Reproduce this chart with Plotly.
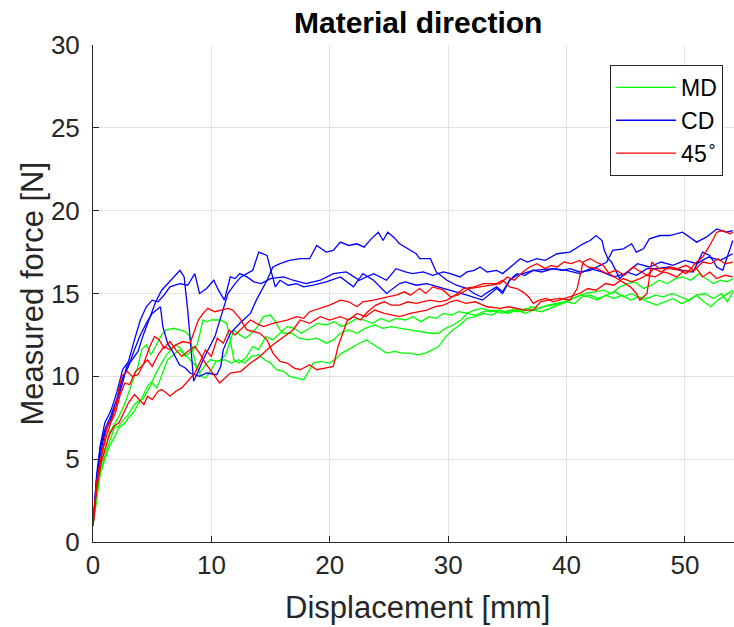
import plotly.graph_objects as go

# ---------------- data ----------------
md1_x = [0,0.3,0.6,1.0,1.4,1.8,2.2,2.6,3.0,3.4,3.8,4.1,4.5,4.9,5.3,5.8,6.2,6.8,7.3,7.8,8.2,8.4,8.7,9.1,9.5,9.9,10.4,10.8,11.2,11.9,12.4,12.9,13.4,13.9,14.4,15.0,15.5,15.8,16.1,16.8,17.4,18.2,18.9,19.7,20.3,20.9,21.6,22.3,23.0,23.8,24.5,25.2,26.0,26.8,27.6,28.5,29.2,29.8,30.4,31.1,31.6,32.3,33.0,33.8,34.5,35.2,35.9,36.6,37.3,38.0,38.8,39.5,40.2,40.9,41.6,42.4,43.1,43.8,44.5,45.2,45.8,46.5,47.2,47.8,48.5,49.2,49.8,50.5,51.2,51.8,52.4,53.0,53.6,54.05]
md1_y = [1.0,3.0,4.6,5.6,6.6,7.1,7.6,8.2,9.0,9.8,10.6,11.6,11.9,11.3,11.8,12.5,12.8,12.9,12.8,12.7,12.4,11.6,10.7,10.0,9.9,10.3,10.9,11.0,11.3,12.8,12.5,12.3,12.6,13.0,13.6,13.7,13.2,12.8,12.6,12.6,12.3,12.2,12.3,12.0,12.2,12.6,12.8,12.6,12.9,13.1,12.9,13.0,12.9,12.8,12.7,12.6,12.6,12.9,13.1,13.4,13.8,13.7,13.9,14.0,13.8,14.0,13.9,14.1,14.0,14.2,14.3,14.4,14.6,14.8,15.0,15.1,15.2,15.0,15.4,15.6,15.7,15.3,15.5,15.8,15.6,15.9,16.0,15.8,16.2,15.9,15.6,15.8,15.7,15.9]

md2_x = [0,0.3,0.6,1.0,1.4,1.8,2.2,2.6,3.0,3.4,3.8,4.2,4.6,5.0,5.4,5.9,6.3,6.8,7.3,7.8,8.3,8.8,9.3,9.6,10.0,10.7,11.3,11.6,11.9,12.3,12.9,13.5,14.0,14.6,15.2,15.8,16.4,17.0,17.6,18.3,19.0,19.7,20.4,21.0,21.6,22.3,22.9,23.6,24.3,25.0,25.6,26.4,27.0,27.7,28.4,29.0,29.6,30.3,30.9,31.6,32.2,32.9,33.6,34.3,34.9,35.6,36.3,37.0,37.7,38.4,39.1,39.8,40.5,41.2,41.9,42.6,43.3,44.0,44.7,45.4,46.1,46.8,47.5,48.2,48.9,49.6,50.3,51.0,51.7,52.4,53.1,53.6,54.05]
md2_y = [1.0,2.8,4.3,5.2,6.0,6.9,7.0,7.4,7.7,8.2,8.5,8.6,9.1,9.6,9.3,10.2,11.0,11.3,11.6,11.2,11.5,11.9,13.4,13.3,13.4,13.4,13.2,12.2,11.0,10.8,11.1,11.8,11.6,12.4,12.2,12.6,13.0,12.9,12.6,12.9,13.2,13.1,13.3,13.0,13.2,13.5,13.4,13.2,13.5,13.3,13.5,13.4,13.6,13.3,13.6,13.5,13.8,13.7,13.9,13.8,14.0,14.1,13.9,14.0,13.8,14.1,13.9,14.2,14.1,14.3,14.4,14.5,14.7,14.9,14.8,14.6,14.9,14.7,14.9,14.6,14.8,14.7,14.9,14.8,15.0,14.8,14.6,14.9,15.0,14.7,15.0,14.5,15.1]

md3_x = [0,0.3,0.6,1.0,1.4,1.8,2.2,2.6,3.0,3.4,3.8,4.2,4.6,5.0,5.4,5.8,6.2,6.6,7.0,7.4,7.8,8.2,8.6,9.0,9.4,9.9,10.5,11.1,11.7,12.3,12.8,13.4,14.0,14.5,15.0,15.5,16.1,16.6,17.2,17.8,18.3,18.6,19.2,20.0,20.6,21.0,21.8,22.5,23.1,23.7,24.3,24.8,25.5,26.1,26.8,27.4,28.1,28.7,29.2,29.8,30.4,31.0,31.6,32.3,33.0,33.7,34.4,35.1,35.8,36.5,37.2,37.9,38.6,39.3,40.0,40.7,41.3,42.0,42.7,43.4,44.1,44.8,45.5,46.2,46.9,47.6,48.3,49.0,49.7,50.4,51.0,51.6,52.2,52.8,53.4,54.05]
md3_y = [1.0,2.5,4.0,5.0,5.8,6.3,6.9,7.1,7.5,7.8,8.3,8.8,9.4,9.7,10.3,10.8,11.3,11.6,11.9,11.7,11.3,11.0,10.7,10.2,10.6,11.0,10.9,11.0,10.8,11.0,10.8,11.2,11.3,11.0,10.8,10.4,10.3,10.0,9.9,9.8,10.4,10.8,10.9,10.8,11.1,11.4,11.7,12.0,12.2,11.9,11.6,11.4,11.5,11.4,11.4,11.3,11.4,11.6,11.8,12.4,12.8,13.1,13.5,13.6,13.8,13.7,14.0,13.8,14.0,13.8,14.0,13.9,14.1,14.3,14.5,14.4,14.8,14.9,14.7,14.9,15.1,14.8,15.0,14.7,14.5,14.3,14.5,14.7,14.4,14.6,14.9,14.5,14.2,14.6,14.9,15.2]

cd1_x = [0,0.3,0.6,1.0,1.5,2.0,2.5,3.0,3.5,4.0,4.5,5.0,5.7,5.9,6.3,6.8,7.3,7.8,8.2,9.0,9.6,10.45,10.8,11.0,11.6,12.4,13.3,13.8,14.7,15.2,15.8,16.6,17.5,18.3,18.9,19.7,20.3,20.9,21.6,22.3,22.9,23.5,24.1,24.5,24.9,25.4,25.9,26.8,27.3,27.6,28.0,28.5,29.0,29.9,30.7,31.6,32.2,32.8,33.4,34.1,34.6,35.2,35.8,36.5,37.2,37.9,38.9,39.6,40.3,41.1,42.0,42.8,43.4,43.9,44.8,45.5,45.9,46.5,47.0,47.9,48.7,49.8,50.4,51.0,51.8,52.7,53.5,54.05]
cd1_y = [1.0,3.6,5.6,6.8,7.6,8.6,9.9,10.6,11.6,12.5,13.2,13.8,14.2,13.0,12.0,11.4,10.7,10.5,10.2,10.0,10.2,10.1,10.6,11.6,12.6,13.2,13.8,14.6,15.8,16.6,16.8,17.0,17.1,17.1,17.9,17.5,17.6,18.1,17.9,18.0,17.8,18.3,18.7,18.2,18.7,18.4,18.0,17.6,17.4,17.1,17.1,17.1,16.3,15.8,15.5,15.3,15.0,14.8,15.1,15.4,15.1,15.8,16.2,16.1,16.4,16.3,16.5,16.4,16.5,16.3,16.4,16.7,16.9,17.6,17.7,18.0,17.5,17.7,18.3,18.5,18.5,18.7,18.4,18.1,18.4,18.9,18.7,18.8]

cd2_x = [0,0.3,0.6,1.0,1.5,2.0,2.5,3.0,3.5,4.0,4.5,5.0,5.5,6.0,6.5,7.35,8.0,8.6,9.0,9.6,10.2,10.6,11.1,11.6,12.0,12.4,13.0,13.6,14.2,15.0,16.1,16.9,18.0,19.2,20.3,21.4,22.5,23.7,24.8,25.6,26.4,27.0,27.9,28.7,29.6,30.2,31.0,31.6,32.2,32.7,33.3,34.1,34.6,35.3,36.1,36.7,37.5,38.2,39.2,40.3,41.4,42.0,42.5,43.0,43.2,43.5,43.8,44.5,45.1,45.9,46.8,47.6,48.7,49.8,50.7,51.5,52.1,52.7,53.2,54.05]
cd2_y = [1.0,4.0,5.8,7.2,7.9,9.0,10.4,10.9,12.2,13.4,14.2,14.6,14.5,14.9,15.4,15.6,15.5,16.2,15.0,15.3,15.8,15.2,14.6,16.0,15.9,16.2,16.0,15.7,15.6,15.9,16.0,15.8,15.6,15.8,16.2,16.3,15.8,16.2,15.8,16.5,16.3,16.2,16.3,16.1,16.3,16.2,16.0,16.3,16.4,16.6,16.3,16.4,16.2,16.6,17.1,16.9,17.1,17.0,17.4,17.5,18.0,18.2,18.5,18.2,17.6,17.1,16.9,15.9,16.3,16.1,16.5,16.5,16.6,16.4,16.3,17.5,17.3,16.6,16.4,18.2]

cd3_x = [0,0.3,0.6,1.0,1.5,2.0,2.5,2.85,3.3,3.8,4.25,4.8,5.3,5.8,6.3,6.8,7.35,7.7,8.0,8.3,8.5,8.9,9.3,10.3,10.8,11.4,12.0,12.5,13.0,13.5,14.0,14.7,15.1,15.4,15.8,16.5,17.2,17.8,18.6,19.7,20.9,22.0,22.8,23.7,24.8,25.9,26.4,27.3,28.2,29.2,30.3,31.6,32.9,34.1,34.6,35.2,35.8,37.2,38.9,40.0,41.1,42.0,43.0,44.0,45.0,46.0,47.0,48.0,49.0,50.0,51.0,52.0,53.0,54.05]
cd3_y = [1.0,3.8,5.2,6.6,7.4,8.4,9.6,10.6,11.0,11.5,12.5,13.6,14.5,15.2,15.6,16.0,16.4,16.0,14.0,11.5,9.7,10.3,11.0,12.4,13.6,15.0,15.6,16.0,16.2,16.4,17.5,17.3,16.2,15.4,15.8,15.5,15.6,15.4,15.5,15.7,16.0,15.4,16.2,15.8,15.0,15.6,15.7,15.5,15.6,15.4,15.2,14.9,14.6,15.3,15.0,15.8,16.1,16.4,16.5,16.4,16.2,16.5,16.3,16.0,16.2,16.8,16.6,16.9,16.7,17.0,16.8,17.2,17.0,17.4]

d45_1_x = [0,0.4,0.8,1.2,1.6,2.0,2.4,2.9,3.3,3.8,4.3,4.8,5.2,5.6,6.0,6.5,7.0,7.5,8.0,8.6,9.0,9.5,10.0,10.7,11.6,12.5,13.3,14.1,15.0,15.8,16.9,17.5,18.3,19.2,20.0,20.9,21.6,22.3,23.0,23.8,24.6,25.3,25.9,26.8,27.4,28.2,28.9,29.6,30.2,30.7,31.5,32.3,33.3,34.4,35.1,35.8,36.5,37.2,37.8,38.5,39.4,40.3,40.9,41.4,42.0,42.5,43.1,43.6,44.1,44.5,45.4,45.9,46.2,46.8,47.2,47.8,48.7,49.6,50.1,50.6,51.0,51.5,52.1,52.7,53.2,53.8,54.05]
d45_1_y = [1.0,4.0,5.5,7.0,7.4,8.5,10.0,10.3,10.0,10.1,10.8,11.8,12.4,12.2,11.7,12.1,11.6,11.2,11.5,11.8,11.4,10.8,10.3,9.6,10.2,10.3,10.8,11.2,11.8,12.2,12.8,13.4,13.2,13.6,13.4,13.6,13.4,13.8,13.6,14.0,13.8,13.7,13.6,13.8,13.9,14.0,14.2,14.3,14.5,14.6,14.4,14.5,14.2,14.1,14.2,14.1,14.0,14.0,14.5,14.6,14.7,14.6,15.3,16.9,17.1,16.9,16.7,16.2,16.0,15.8,15.4,15.0,14.6,15.0,16.9,16.5,16.5,16.4,16.2,16.6,16.9,17.2,17.9,18.7,18.8,18.6,18.7]

d45_2_x = [0,0.3,0.7,1.1,1.5,1.9,2.3,2.7,3.1,3.6,4.1,4.6,5.0,5.5,6.0,6.5,7.0,7.6,8.2,8.5,8.9,9.3,9.7,10.3,10.8,11.4,11.8,12.4,13.0,13.5,14.1,14.7,15.2,15.8,16.4,17.0,17.5,18.3,18.9,19.6,20.3,20.7,21.1,21.5,22.0,22.6,23.2,23.9,24.6,25.2,25.9,26.6,27.3,28.5,29.3,29.9,30.6,31.3,32.2,33.0,34.1,34.6,35.2,35.8,36.3,36.8,37.2,37.7,38.3,38.9,39.4,40.3,41.1,41.8,42.5,43.3,44.0,44.8,45.5,46.2,46.8,47.5,48.2,48.7,49.3,50.0,50.4,51.0,51.5,52.1,52.7,53.4,54.05]
d45_2_y = [1.0,3.5,5.2,6.3,7.2,7.8,8.9,9.6,9.5,10.3,10.6,11.0,10.6,11.3,11.8,11.6,11.9,12.1,12.0,12.6,13.4,13.8,14.1,13.9,14.0,14.1,14.0,13.5,12.8,12.7,12.6,12.2,11.4,10.9,10.8,10.5,10.4,10.7,10.4,10.5,10.6,11.8,12.6,13.4,13.6,13.4,13.9,14.3,14.5,14.3,14.3,14.5,14.4,14.6,14.5,14.6,14.9,15.3,15.4,15.6,15.6,15.8,15.4,15.3,15.1,14.8,14.4,14.6,14.7,14.5,14.6,14.8,15.0,15.3,15.2,15.6,15.5,15.9,15.7,15.9,16.1,16.0,16.3,16.2,16.0,16.4,16.3,16.5,16.0,16.3,15.9,16.1,16.0]

d45_3_x = [0,0.3,0.7,1.0,1.4,1.8,2.2,2.6,3.0,3.5,3.9,4.3,4.6,5.0,5.5,5.8,6.2,6.5,7.0,7.5,8.0,8.6,9.0,9.5,10.0,10.5,11.0,11.5,12.0,12.6,13.3,13.8,14.4,15.2,15.8,16.4,17.2,17.8,18.3,19.2,20.0,20.9,21.6,22.3,22.8,23.7,24.2,24.9,25.6,26.3,26.8,27.6,28.1,28.7,29.6,30.2,30.8,31.8,32.7,33.5,34.4,35.0,35.6,36.3,36.9,37.5,38.2,38.7,39.2,39.8,40.4,41.1,41.8,42.6,43.4,44.2,44.9,45.6,46.3,46.8,47.4,48.0,48.7,49.4,50.1,50.8,51.5,52.2,52.8,53.4,54.05]
d45_3_y = [1.0,3.2,4.8,5.5,6.5,7.0,7.2,7.8,8.4,8.9,8.6,8.3,8.8,8.6,9.1,9.2,9.0,8.8,9.1,9.3,9.7,10.2,10.8,11.6,11.2,12.3,12.0,12.8,12.5,12.9,13.4,13.2,13.0,13.2,13.3,13.4,13.6,13.5,13.9,14.1,14.3,14.6,14.5,14.2,14.5,14.6,14.7,14.8,14.9,15.1,14.9,15.3,15.0,15.4,15.2,14.8,14.9,15.3,15.4,15.5,15.6,16.0,15.8,16.3,16.6,16.8,16.5,16.7,16.6,16.9,16.8,17.0,16.6,16.5,16.2,16.4,16.1,16.6,16.3,16.1,16.5,16.3,16.6,16.5,16.7,16.4,16.9,16.8,17.1,16.8,16.9]

series = [
    ("MD", "#00ff00", [(md1_x, md1_y), (md2_x, md2_y), (md3_x, md3_y)]),
    ("CD", "#0000ff", [(cd1_x, cd1_y), (cd2_x, cd2_y), (cd3_x, cd3_y)]),
    ("45<sup>∘</sup>", "#ff0000", [(d45_1_x, d45_1_y), (d45_2_x, d45_2_y), (d45_3_x, d45_3_y)]),
]

x_ticks = [0, 10, 20, 30, 40, 50]
y_ticks = [0, 5, 10, 15, 20, 25, 30]

title_text = "Material direction"
x_label = "Displacement [mm]"
y_label = "Measured force [N]"

# ---------------- figure ----------------
fig = go.Figure()
for name, color, curves in series:
    for i, (xs, ys) in enumerate(curves):
        fig.add_trace(go.Scatter(
            x=xs, y=ys, mode="lines", name=name, legendgroup=name,
            showlegend=(i == 0), line=dict(color=color, width=1.3),
        ))

axis_color = "#262626"
font_family = "Liberation Sans, Arial, sans-serif"

W, H = 734, 627
ml, mr, mt, mb = 93, 0, 45, 85

fig.update_layout(
    width=W, height=H,
    margin=dict(l=ml, r=mr, t=mt, b=mb),
    paper_bgcolor="white", plot_bgcolor="white",
    font=dict(family=font_family, color=axis_color),
    showlegend=True,
    legend=dict(
        x=0.983, y=0.960, xanchor="right", yanchor="top",
        bgcolor="white", bordercolor=axis_color, borderwidth=1,
        font=dict(size=23, color="black", family=font_family),
        itemwidth=60, tracegroupgap=0,
    ),
)

fig.update_xaxes(
    range=[0, 54.15], tickvals=x_ticks, ticks="inside", ticklen=6,
    tickcolor=axis_color, showline=True, linecolor=axis_color, linewidth=1,
    showgrid=True, gridcolor="#e3e3e3", gridwidth=1, zeroline=False,
    tickfont=dict(size=26, color=axis_color), mirror=False,
)
fig.update_yaxes(
    range=[0, 30], tickvals=y_ticks, ticks="inside", ticklen=6,
    tickcolor=axis_color, showline=True, linecolor=axis_color, linewidth=1,
    showgrid=True, gridcolor="#e3e3e3", gridwidth=1, zeroline=False,
    tickfont=dict(size=26, color=axis_color), mirror=False,
    ticklabelstandoff=7,
)

plot_w = W - ml - mr
center_x_paper = (418 - ml) / plot_w

fig.add_annotation(text="<b>" + title_text + "</b>", xref="paper", yref="paper",
                   x=center_x_paper, y=1, yshift=23, showarrow=False,
                   font=dict(size=30, color="black"), xanchor="center", yanchor="middle")
fig.add_annotation(text=x_label, xref="paper", yref="paper",
                   x=center_x_paper, y=0, yshift=-65, showarrow=False,
                   font=dict(size=31, color=axis_color), xanchor="center", yanchor="middle")
fig.add_annotation(text=y_label, xref="paper", yref="paper",
                   x=0, xshift=-61, y=0.5, showarrow=False, textangle=-90,
                   font=dict(size=31, color=axis_color), xanchor="center", yanchor="middle")

fig.write_html("out.html")
